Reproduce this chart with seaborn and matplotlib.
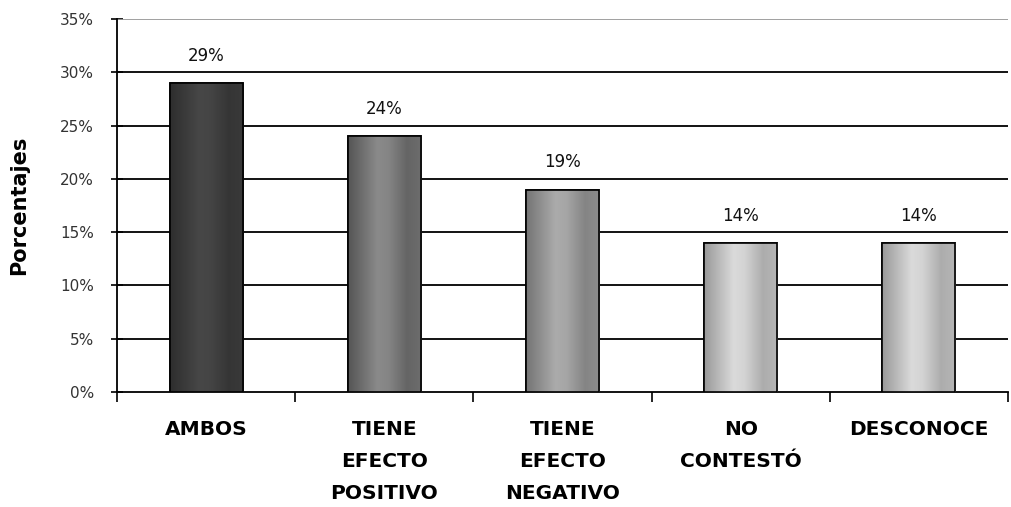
import matplotlib
matplotlib.use("Agg")
import matplotlib.pyplot as plt
import seaborn as sns
import numpy as np
import pandas as pd
from matplotlib.colors import LinearSegmentedColormap

# data
categories = ["AMBOS", "TIENE\nEFECTO\nPOSITIVO", "TIENE\nEFECTO\nNEGATIVO",
              "NO\nCONTESTÓ", "DESCONOCE"]
percentages = [29, 24, 19, 14, 14]
value_labels = ["29%", "24%", "19%", "14%", "14%"]
y_ticks = [0, 5, 10, 15, 20, 25, 30, 35]

# (edge shade, centre shade) for the horizontal gradient of each bar
bar_shades = [("#2e2e2e", "#474747"), ("#555555", "#8a8a8a"),
              ("#747474", "#ababab"), ("#999999", "#dadada"),
              ("#999999", "#dadada")]

sns.set_style("white")
plt.rcParams["font.family"] = ["DejaVu Sans"]

df = pd.DataFrame({"cat": categories, "pct": percentages})

fig = plt.figure(figsize=(10.11, 5.07), dpi=100)
ax = fig.add_axes([0.1157, 0.2268, 0.8813, 0.7357])

sns.barplot(data=df, x="cat", y="pct", ax=ax, width=0.41,
            color="#888888", edgecolor="black", linewidth=1.2, zorder=3)

# horizontal gradient inside each bar
profile_x = np.linspace(0, 1, 200)
profile = np.interp(profile_x, [0, 0.4, 0.55, 0.8, 1.0], [0.0, 1.0, 0.9, 0.3, 0.45])
grad = profile[np.newaxis, :]
for patch, (dark, light) in zip(ax.patches, bar_shades):
    x0, y0 = patch.get_x(), patch.get_y()
    w, h = patch.get_width(), patch.get_height()
    cmap = LinearSegmentedColormap.from_list("g", [dark, light])
    im = ax.imshow(grad, extent=[x0, x0 + w, y0, y0 + h], aspect="auto",
                   cmap=cmap, vmin=0, vmax=1, zorder=3.5, interpolation="bilinear")
    im.set_clip_path(patch)
    edge = plt.Rectangle((x0, y0), w, h, fill=False, edgecolor="black",
                         linewidth=1.2, zorder=4)
    ax.add_patch(edge)

for i, (v, lab) in enumerate(zip(percentages, value_labels)):
    ax.text(i, v + 1.7, lab, ha="center", va="bottom", fontsize=12, color="#111111")

ax.set_xlim(-0.5, len(categories) - 0.5)
ax.set_ylim(0, 35)
ax.set_yticks(y_ticks)
ax.set_yticklabels([f"{t}%" for t in y_ticks], fontsize=11, color="#333333")

# gridlines
for t in y_ticks[1:-1]:
    ax.axhline(t, color="black", linewidth=1.3, zorder=1)
ax.axhline(35, color="#999999", linewidth=1.3, zorder=1)

for side in ["top", "right"]:
    ax.spines[side].set_visible(False)
for side in ["left", "bottom"]:
    ax.spines[side].set_color("black")
    ax.spines[side].set_linewidth(1.3)

ax.tick_params(axis="y", which="major", direction="inout", length=9,
               width=1.2, color="black", left=True, pad=12)

# x ticks at category boundaries, labels at centres
ax.set_xticks(np.arange(-0.5, len(categories), 1.0))
ax.set_xticklabels([])
ax.set_xticks(np.arange(len(categories)), minor=True)
ax.set_xticklabels(categories, minor=True, fontsize=14.5, fontweight="bold",
                   linespacing=1.88, va="top", color="black")
ax.tick_params(axis="x", which="major", direction="out", length=7,
               width=1.2, color="black", bottom=True)
ax.tick_params(axis="x", which="minor", length=0, pad=20)

ax.set_xlabel("")
ax.set_ylabel("Porcentajes", fontsize=15, fontweight="bold", labelpad=22,
              color="black")

fig.savefig("out.png", dpi=100)
